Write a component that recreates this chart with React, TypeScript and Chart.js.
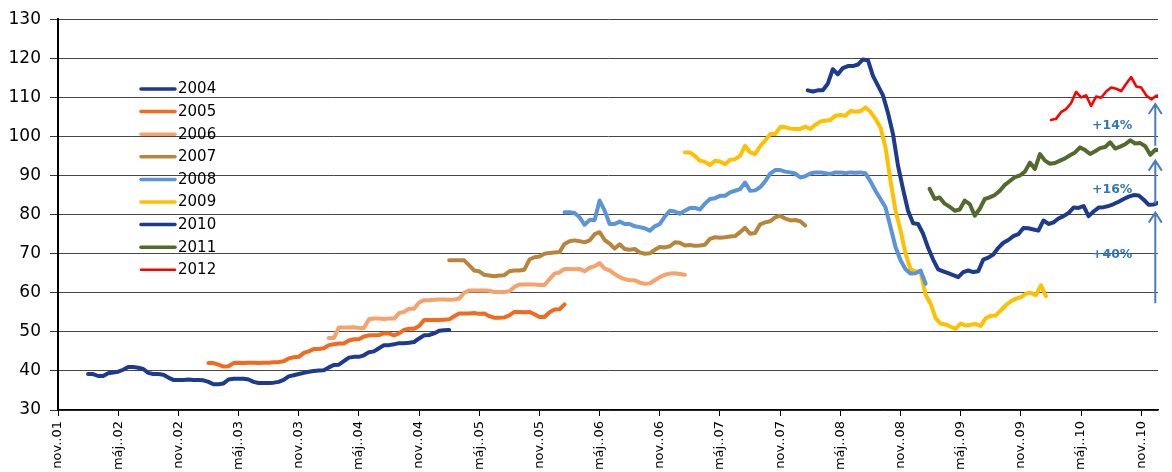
import React, { useEffect, useRef } from 'react';
import { Chart, registerables } from 'chart.js';

Chart.register(...registerables);

// x axis: months since nov 2001, tick every 6 months
const xTickLabels = [
  'nov..01', 'máj..02', 'nov..02', 'máj..03', 'nov..03', 'máj..04', 'nov..04', 'máj..05',
  'nov..05', 'máj..06', 'nov..06', 'máj..07', 'nov..07', 'máj..08', 'nov..08', 'máj..09',
  'nov..09', 'máj..10', 'nov..10',
];
const xMaxMonth = 109.67;

const seriesNames = ['2004', '2005', '2006', '2007', '2008', '2009', '2010', '2011', '2012'];
const seriesColors = ['#1C3A8E', '#F26A1B', '#F7A26B', '#B8863B', '#5B94D8', '#FFC000', '#1C3A8E', '#536A2D', '#FF0000'];
// first month (since nov 2001) of each series, values every half month
const seriesStart = [3, 15, 27, 39, 50.5, 62.5, 74.75, 86.9, 99];
const STEP = 0.5;

const s2004 = [39.2, 39.2, 38.7, 38.7, 39.4, 39.6, 39.8, 40.3, 41.0, 41.0, 40.8, 40.5, 39.5, 39.2, 39.2, 39.0, 38.3, 37.7, 37.7, 37.7, 37.8, 37.7, 37.7, 37.6, 37.2, 36.6, 36.6, 36.8, 37.8, 38.0, 38.0, 38.0, 37.8, 37.2, 36.9, 36.9, 36.9, 37.0, 37.2, 37.7, 38.6, 38.9, 39.2, 39.5, 39.8, 40.0, 40.1, 40.2, 40.9, 41.5, 41.6, 42.5, 43.4, 43.6, 43.6, 44.0, 44.8, 45.0, 45.8, 46.6, 46.6, 46.8, 47.1, 47.1, 47.2, 47.4, 48.3, 49.1, 49.2, 49.6, 50.3, 50.4, 50.5];
const s2005 = [42.0, 42.0, 41.6, 41.1, 41.2, 42.0, 42.1, 42.0, 42.1, 42.1, 42.0, 42.1, 42.1, 42.2, 42.3, 42.5, 43.2, 43.5, 43.6, 44.6, 45.0, 45.6, 45.6, 45.8, 46.6, 46.8, 47.0, 47.0, 47.8, 48.1, 48.1, 48.8, 49.1, 49.1, 49.2, 49.6, 49.6, 49.1, 49.6, 50.5, 50.8, 50.8, 51.5, 53.0, 53.0, 53.0, 53.0, 53.1, 53.2, 54.0, 54.7, 54.7, 54.7, 54.8, 54.6, 54.7, 54.0, 53.6, 53.6, 53.7, 54.2, 55.1, 55.1, 55.0, 55.1, 54.5, 53.8, 53.8, 55.0, 55.7, 55.8, 57.0];
const s2006 = [48.4, 48.4, 51.1, 51.1, 51.1, 51.2, 51.0, 51.0, 53.2, 53.4, 53.4, 53.3, 53.4, 53.4, 54.8, 55.1, 55.9, 55.9, 57.5, 58.1, 58.1, 58.2, 58.3, 58.3, 58.2, 58.3, 58.5, 60.0, 60.6, 60.6, 60.6, 60.6, 60.5, 60.2, 60.2, 60.2, 60.4, 61.5, 62.1, 62.1, 62.1, 62.1, 62.0, 62.0, 63.5, 64.9, 65.2, 66.1, 66.1, 66.0, 66.1, 65.5, 66.4, 66.8, 67.6, 66.2, 65.7, 64.8, 64.0, 63.5, 63.2, 63.2, 62.6, 62.3, 62.4, 63.2, 64.0, 64.6, 64.9, 65.0, 64.8, 64.6];
const s2007 = [68.3, 68.3, 68.3, 68.3, 67.0, 65.7, 65.5, 64.6, 64.4, 64.2, 64.4, 64.5, 65.5, 65.7, 65.7, 65.9, 68.5, 69.1, 69.3, 70.0, 70.2, 70.3, 70.4, 72.5, 73.2, 73.4, 73.2, 72.9, 73.4, 75.0, 75.5, 73.5, 72.6, 71.3, 72.4, 71.2, 71.0, 71.2, 70.3, 70.0, 70.1, 71.0, 71.7, 71.6, 71.9, 72.9, 72.8, 72.1, 72.2, 72.0, 72.1, 72.3, 73.8, 74.2, 74.1, 74.2, 74.4, 74.5, 75.5, 76.6, 75.1, 75.3, 77.5, 78.0, 78.3, 79.3, 79.7, 79.0, 78.5, 78.6, 78.3, 77.2];
const s2008 = [80.6, 80.6, 80.4, 79.3, 77.4, 78.6, 78.6, 83.6, 81.0, 77.6, 77.6, 78.2, 77.6, 77.6, 77.0, 76.8, 76.5, 75.9, 77.0, 77.6, 79.5, 81.0, 80.8, 80.2, 81.0, 81.7, 81.7, 81.3, 82.8, 84.0, 84.2, 84.8, 84.8, 85.7, 86.1, 86.5, 88.2, 86.1, 86.2, 87.0, 88.5, 90.5, 91.4, 91.4, 91.0, 90.8, 90.5, 89.5, 89.8, 90.5, 90.8, 90.8, 90.6, 90.4, 90.8, 90.8, 90.6, 90.8, 90.7, 90.8, 90.6, 88.5, 86.1, 84.0, 81.9, 76.8, 71.7, 68.3, 66.0, 64.9, 65.0, 65.7, 62.3];
const s2009 = [95.9, 95.9, 95.0, 93.8, 93.5, 92.7, 93.8, 93.6, 92.9, 94.0, 94.2, 95.0, 97.6, 95.9, 95.5, 97.5, 98.9, 100.6, 100.6, 102.4, 102.4, 102.0, 101.9, 101.9, 102.5, 101.9, 103.0, 103.8, 104.0, 104.2, 105.3, 105.5, 105.3, 106.5, 106.3, 106.5, 107.4, 106.3, 104.5, 102.3, 97.2, 88.7, 81.0, 76.0, 70.0, 66.0, 65.5, 65.3, 59.5, 57.2, 53.5, 52.1, 51.9, 51.3, 50.8, 52.1, 51.6, 51.8, 52.0, 51.5, 53.5, 54.1, 54.2, 55.5, 56.8, 57.8, 58.5, 58.9, 59.8, 60.0, 59.4, 61.9, 59.1];
const s2010 = [111.8, 111.5, 111.8, 111.8, 113.5, 117.2, 115.9, 117.5, 118.0, 118.0, 118.4, 119.7, 119.5, 115.5, 113.0, 110.5, 106.0, 100.6, 92.5, 86.5, 81.0, 77.8, 77.6, 75.1, 71.5, 68.5, 66.0, 65.5, 65.0, 64.5, 64.0, 65.3, 65.7, 65.3, 65.5, 68.5, 69.0, 69.8, 71.5, 72.8, 73.5, 74.5, 75.0, 76.6, 76.5, 76.2, 75.9, 78.5, 77.6, 78.0, 79.0, 79.6, 80.4, 81.8, 81.7, 82.2, 79.6, 80.8, 81.8, 81.9, 82.2, 82.7, 83.3, 84.0, 84.6, 85.0, 84.9, 83.8, 82.5, 82.6, 83.1];
const s2011 = [86.6, 84.0, 84.4, 82.8, 82.0, 81.0, 81.3, 83.6, 82.7, 79.7, 81.5, 84.0, 84.4, 85.0, 86.1, 87.6, 88.6, 89.6, 90.0, 91.0, 93.3, 91.7, 95.5, 93.8, 93.0, 93.2, 93.8, 94.4, 95.2, 95.9, 97.2, 96.5, 95.5, 96.2, 97.0, 97.3, 98.5, 96.9, 97.4, 98.0, 99.0, 98.2, 98.3, 97.5, 95.3, 96.6, 96.5];
const s2012 = [104.2, 104.5, 106.2, 107.0, 108.5, 111.4, 110.0, 110.5, 107.8, 110.2, 109.9, 111.5, 112.5, 112.2, 111.6, 113.5, 115.2, 112.8, 112.5, 110.5, 109.5, 110.4, 110.4];

// growth arrows on the right edge
const arrowMonth = 109.4;
const arrowFrom = [57.3, 82.8, 97.6];
const arrowTo = [80.5, 93.8, 108.3];
const annLabels = ['+40%', '+16%', '+14%'];
const annMonth = 105.1;
const annValue = [69.8, 86.4, 102.7];

export default function App() {
  const ref = useRef<HTMLCanvasElement>(null);

  useEffect(() => {
    const canvas = ref.current;
    if (!canvas) return;
    const series = [s2004, s2005, s2006, s2007, s2008, s2009, s2010, s2011, s2012];
    const datasets = series.map((vals, k) => ({
      label: seriesNames[k],
      data: vals.map((v, i) => ({ x: seriesStart[k] + i * STEP, y: v })),
      borderColor: seriesColors[k],
      backgroundColor: seriesColors[k],
      borderWidth: k === 8 ? 2.6 : 4,
      pointRadius: 0,
      tension: 0,
      fill: false,
      borderJoinStyle: 'round' as const,
      borderCapStyle: 'round' as const,
    }));

    const overlay = {
      id: 'overlay',
      afterDatasetsDraw(chart: any) {
        const ctx = chart.ctx as CanvasRenderingContext2D;
        const xs = chart.scales.x;
        const ys = chart.scales.y;
        ctx.save();
        // legend
        const lx = 141;
        const ly0 = 89;
        const dy = 22.6;
        seriesNames.forEach((name, k) => {
          const y = ly0 + k * dy;
          ctx.strokeStyle = seriesColors[k];
          ctx.lineWidth = k === 8 ? 2.5 : 3.5;
          ctx.lineCap = 'round';
          ctx.beginPath();
          ctx.moveTo(lx, y);
          ctx.lineTo(lx + 34, y);
          ctx.stroke();
          ctx.fillStyle = '#000';
          ctx.font = '15px "DejaVu Sans"';
          ctx.textAlign = 'left';
          ctx.textBaseline = 'middle';
          ctx.fillText(name, lx + 37, y + 0.5);
        });
        // arrows
        const ax = xs.getPixelForValue(arrowMonth);
        ctx.strokeStyle = '#4A7EBB';
        ctx.lineWidth = 2;
        ctx.lineCap = 'butt';
        arrowFrom.forEach((from, k) => {
          const y1 = ys.getPixelForValue(from);
          const y2 = ys.getPixelForValue(arrowTo[k]);
          ctx.beginPath();
          ctx.moveTo(ax, y1);
          ctx.lineTo(ax, y2);
          ctx.moveTo(ax - 6.5, y2 + 10);
          ctx.lineTo(ax, y2);
          ctx.lineTo(ax + 6.5, y2 + 10);
          ctx.stroke();
        });
        // labels
        ctx.fillStyle = '#2E78C2';
        ctx.font = 'bold 12.5px "DejaVu Sans"';
        ctx.textAlign = 'center';
        ctx.textBaseline = 'middle';
        const tx = xs.getPixelForValue(annMonth);
        annLabels.forEach((t, k) => {
          ctx.fillText(t, tx, ys.getPixelForValue(annValue[k]));
        });
        ctx.restore();
      },
    };

    const chart = new Chart(canvas, {
      type: 'line',
      data: { datasets },
      options: {
        responsive: false,
        maintainAspectRatio: false,
        animation: false,
        layout: { padding: { left: 0, right: 14, top: 18, bottom: 0 } },
        plugins: {
          legend: { display: false },
          tooltip: { enabled: false },
        },
        scales: {
          x: {
            type: 'linear',
            min: 0,
            max: xMaxMonth,
            afterBuildTicks: (s: any) => {
              s.ticks = xTickLabels.map((_, i) => ({ value: i * 6 }));
            },
            afterFit: (s: any) => {
              s.height = 62;
            },
            ticks: {
              autoSkip: false,
              maxRotation: 90,
              minRotation: 90,
              padding: 5,
              color: '#000',
              font: { family: 'DejaVu Sans', size: 13 },
              callback: (v: any) => xTickLabels[Math.round(Number(v) / 6)] ?? '',
            },
            grid: { drawOnChartArea: false, drawTicks: true, tickLength: 6, color: '#000', tickColor: '#000' },
            border: { color: '#000', width: 1.5 },
          },
          y: {
            min: 30,
            max: 130,
            afterFit: (s: any) => {
              s.width = 58;
            },
            ticks: {
              stepSize: 10,
              padding: 9,
              color: '#000',
              font: { family: 'DejaVu Sans', size: 17 },
            },
            grid: { color: '#484848', lineWidth: 1, drawTicks: true, tickLength: 8, tickColor: '#333' },
            border: { color: '#000', width: 2 },
          },
        },
      },
      plugins: [overlay],
    });
    return () => chart.destroy();
  }, []);

  return (
    <div style={{ position: 'fixed', left: 0, top: 0, width: 1172, height: 472, background: '#fff', overflow: 'hidden' }}>
      <canvas ref={ref} width={1172} height={472} style={{ display: 'block' }} />
    </div>
  );
}
